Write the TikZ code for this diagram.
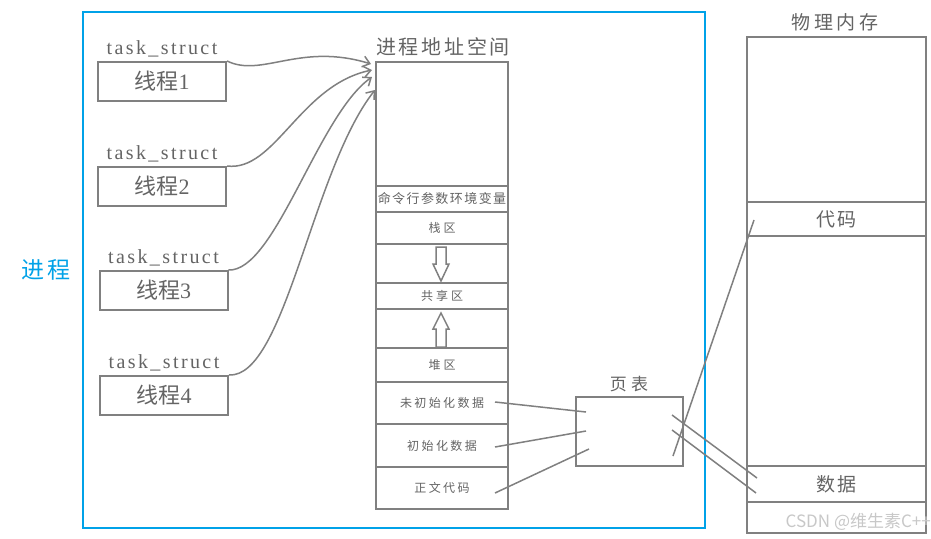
\documentclass[tikz,border=0pt]{standalone}
\usepackage{fontspec}
\setmainfont{Liberation Serif}
\newfontfamily\cjk{Noto Sans CJK SC}
\usetikzlibrary{arrows.meta}
\definecolor{ln}{RGB}{128,128,128}
\definecolor{tx}{RGB}{100,100,100}
\definecolor{bl}{RGB}{0,162,232}
\definecolor{wm}{RGB}{200,200,200}
\newcommand{\sptext}[3]{{\fontsize{#1}{#1}\selectfont\cjk\addfontfeatures{LetterSpace=#2}#3}}
\begin{document}
\begin{tikzpicture}[x=1pt,y=-1pt,
  box/.style={draw=ln,line width=2pt,inner sep=0pt,text=tx},
  lbl/.style={inner sep=0pt,text=tx},
  conn/.style={draw=ln,line width=1.5pt},
  arr/.style={conn,-{Straight Barb[length=7pt,width=11pt]}}]
\useasboundingbox (0,0) rectangle (931,538);
\fill[white] (0,0) rectangle (931,538);
% process frame
\node[draw=bl,line width=2pt,minimum width=622pt,minimum height=516pt,inner sep=0pt] (proc) at (394,270) {};
\node[inner sep=0pt,text=bl] (proclbl) at (46,270) {\sptext{23}{10}{进程}};
% threads
\foreach \i/\x/\y in {1/162/81.5,2/162/186.5,3/163.5/290.5,4/164/395.5}{
  \node[box,minimum width=128pt,minimum height=39pt] (t\i) at (\x,\y) {{\fontsize{22}{22}\selectfont{\cjk 线程}\i}};
  \node[lbl,anchor=base] (ts\i) at (\x,\y-27) {{\fontsize{20}{20}\selectfont\addfontfeatures{LetterSpace=12}task\_struct}};
}
% address space
\node[lbl] (astitle) at (443,47) {\sptext{20}{14}{进程地址空间}};
\node[box,minimum width=132pt,minimum height=124pt] (as0) at (442,124) {};
\node[box,minimum width=132pt,minimum height=26pt] (cmd) at (442,199) {\sptext{13}{11}{命令行参数环境变量}};
\node[box,minimum width=132pt,minimum height=32pt] (stack) at (442,228) {\sptext{12}{25}{栈区}};
\node[box,minimum width=132pt,minimum height=39pt] (gap1) at (442,263.5) {};
\node[box,minimum width=132pt,minimum height=26pt] (shared) at (442,296) {\sptext{12}{25}{共享区}};
\node[box,minimum width=132pt,minimum height=39pt] (gap2) at (442,328.5) {};
\node[box,minimum width=132pt,minimum height=34pt] (heap) at (442,365) {\sptext{12}{25}{堆区}};
\node[box,minimum width=132pt,minimum height=42pt] (bss) at (442,403) {\sptext{12}{20}{未初始化数据}};
\node[box,minimum width=132pt,minimum height=43pt] (data) at (442,445.5) {\sptext{12}{20}{初始化数据}};
\node[box,minimum width=132pt,minimum height=42pt] (text) at (442,488) {\sptext{12}{20}{正文代码}};
% hollow arrows
\draw[ln,line width=1.5pt,fill=white] (436,247) -- (446,247) -- (446,264) -- (449,264) -- (441,281) -- (433,264) -- (436,264) -- cycle;
\draw[ln,line width=1.5pt,fill=white] (436,347) -- (446,347) -- (446,329) -- (449,329) -- (441,313) -- (433,329) -- (436,329) -- cycle;
% page table
\node[lbl] (pttitle) at (629,384) {\sptext{17}{25}{页表}};
\node[box,minimum width=107pt,minimum height=69pt] (pt) at (629.5,431.5) {};
% physical memory
\node[lbl] (pmtitle) at (835,22) {\sptext{19}{18}{物理内存}};
\node[box,minimum width=179pt,minimum height=165pt] (pm0) at (836.5,119.5) {};
\node[box,minimum width=179pt,minimum height=34pt] (pcode) at (836.5,219) {\sptext{19}{15}{代码}};
\node[box,minimum width=179pt,minimum height=230pt] (pm1) at (836.5,351) {};
\node[box,minimum width=179pt,minimum height=36pt] (pdata) at (836.5,484) {\sptext{19}{15}{数据}};
\node[box,minimum width=179pt,minimum height=31pt] (pm2) at (836.5,517.5) {};
% connector end points
\coordinate (a1) at (371,64);
\coordinate (a2) at (372,70);
\coordinate (a3) at (372,77);
\coordinate (a4) at (375,90);
\coordinate (bs) at (495,402);
\coordinate (ds) at (495,447);
\coordinate (cs) at (495,493);
\coordinate (pb) at (586,412);
\coordinate (pd) at (586,431);
\coordinate (pc) at (589,449);
\coordinate (qc) at (673,456);
\coordinate (qd1) at (672,415);
\coordinate (qd2) at (672,430);
\coordinate (mc) at (754,220);
\coordinate (md1) at (757,478);
\coordinate (md2) at (756,493);
% curves
\draw[arr] (t1.north east) .. controls (262,78) and (300,42) .. (a1);
\draw[arr] (t2.north east) .. controls (275,172) and (300,85) .. (a2);
\draw[arr] (t3.north east) .. controls (275,272) and (318,115) .. (a3);
\draw[arr] (t4.north east) .. controls (285,378) and (312,170) .. (a4);
% page table links
\draw[conn] (bs) -- (pb);
\draw[conn] (ds) -- (pd);
\draw[conn] (cs) -- (pc);
\draw[conn] (qc) -- (mc);
\draw[conn] (qd1) -- (md1);
\draw[conn] (qd2) -- (md2);
% watermark
\node[inner sep=0pt,text=wm,anchor=east] (wmk) at (931,522) {{\fontsize{17}{17}\selectfont\cjk CSDN @维生素C++}};
\end{tikzpicture}
\end{document}
